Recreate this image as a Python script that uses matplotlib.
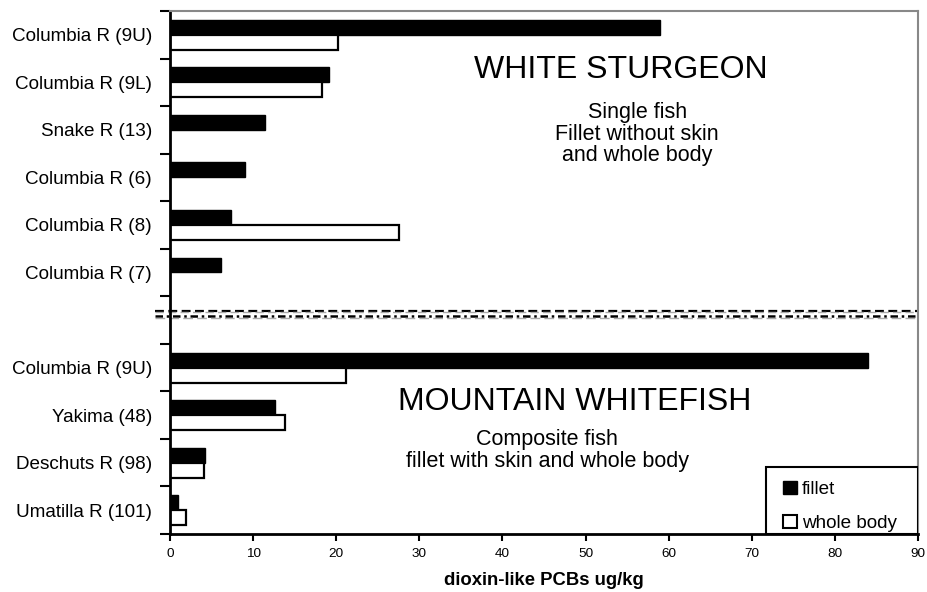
import matplotlib
matplotlib.use("Agg")
import matplotlib.pyplot as plt
from matplotlib.patches import Patch, Rectangle
import numpy as np

plt.rcParams['font.family'] = ['Liberation Sans', 'DejaVu Sans']

# rows from top to bottom, '' is the gap row with the divider
sites = ['Columbia R (9U)', 'Columbia R (9L)', 'Snake R (13)', 'Columbia R (6)',
         'Columbia R (8)', 'Columbia R (7)', '',
         'Columbia R (9U)', 'Yakima (48)', 'Deschuts R (98)', 'Umatilla R (101)']
fillet = [59.0, 19.1, 11.4, 9.0, 7.3, 6.1, np.nan, 84.0, 12.6, 4.2, 1.0]
whole_body = [20.2, 18.3, np.nan, np.nan, 27.6, np.nan, np.nan, 21.2, 13.8, 4.1, 1.9]
xticks = [0, 10, 20, 30, 40, 50, 60, 70, 80, 90]

fig = plt.figure(figsize=(9.28, 5.92), dpi=100)
ax = fig.add_axes([0.1832, 0.098, 0.806, 0.8834])

y = np.arange(len(sites))
h = 0.315
ax.barh(y - h / 2, fillet, height=h, color='black', edgecolor='black', linewidth=1)
ax.barh(y + h / 2, whole_body, height=h, color='white', edgecolor='black', linewidth=1.6)

ax.set_xlim(0, 90)
ax.set_ylim(len(sites) - 0.5, -0.5)
ax.set_xticks(xticks)
ax.tick_params(axis='x', labelsize=9.7, length=5, width=1.5, direction='out', pad=5)

# labels at slot centres, tick marks at the slot edges
ax.set_yticks(y)
ax.set_yticklabels(sites, fontsize=13.6)
ax.tick_params(axis='y', which='major', length=0, pad=13)
ax.set_yticks(np.arange(-0.5, len(sites), 1.0), minor=True)
ax.tick_params(axis='y', which='minor', length=7, width=1.5, direction='out')

for side in ['left', 'bottom']:
    ax.spines[side].set_linewidth(2)
for side in ['top', 'right']:
    ax.spines[side].set_color('#888888')
    ax.spines[side].set_linewidth(1.5)

ax.set_xlabel('dioxin-like PCBs ug/kg', fontsize=13.3, fontweight='bold', labelpad=9)

# messy divider between the two species
ax.plot([-1.8, 90], [5.80, 5.80], color='black', lw=1.6, dashes=(4, 2), clip_on=False)
ax.plot([-1.8, 90], [5.84, 5.84], color='#aaaaaa', lw=1.0, dashes=(6, 3), clip_on=False)
ax.plot([-1.8, 90], [5.91, 5.91], color='black', lw=1.8, dashes=(3, 1.5, 1, 1.5), clip_on=False)
ax.plot([-1.8, 90], [5.96, 5.96], color='#aaaaaa', lw=1.0, dashes=(7, 3), clip_on=False)

ax.text(54.2, 0.74, 'WHITE STURGEON', fontsize=23, ha='center', va='center')
ax.text(56.2, 2.09, 'Single fish\nFillet without skin\nand whole body', fontsize=15.5,
        ha='center', va='center', linespacing=1.04)
ax.text(48.7, 7.72, 'MOUNTAIN WHITEFISH', fontsize=23, ha='center', va='center')
ax.text(45.4, 8.75, 'Composite fish\nfillet with skin and whole body', fontsize=15.5,
        ha='center', va='center', linespacing=1.04)

# legend box drawn separately so its padding can match
ax.add_patch(Rectangle((0.797, 0.0), 0.203, 0.128, transform=ax.transAxes,
                       facecolor='white', edgecolor='black', lw=1.5, zorder=4))
handles = [Patch(facecolor='black', edgecolor='black', label='fillet'),
           Patch(facecolor='white', edgecolor='black', linewidth=1.5, label='whole body')]
leg = ax.legend(handles=handles, loc='upper left', bbox_to_anchor=(0.82, 0.102),
                borderaxespad=0, borderpad=0, frameon=False, fontsize=13.6,
                handlelength=0.7, handleheight=0.7, handletextpad=0.3,
                labelspacing=0.9)
leg.set_zorder(5)

fig.savefig('out.png', dpi=100)
